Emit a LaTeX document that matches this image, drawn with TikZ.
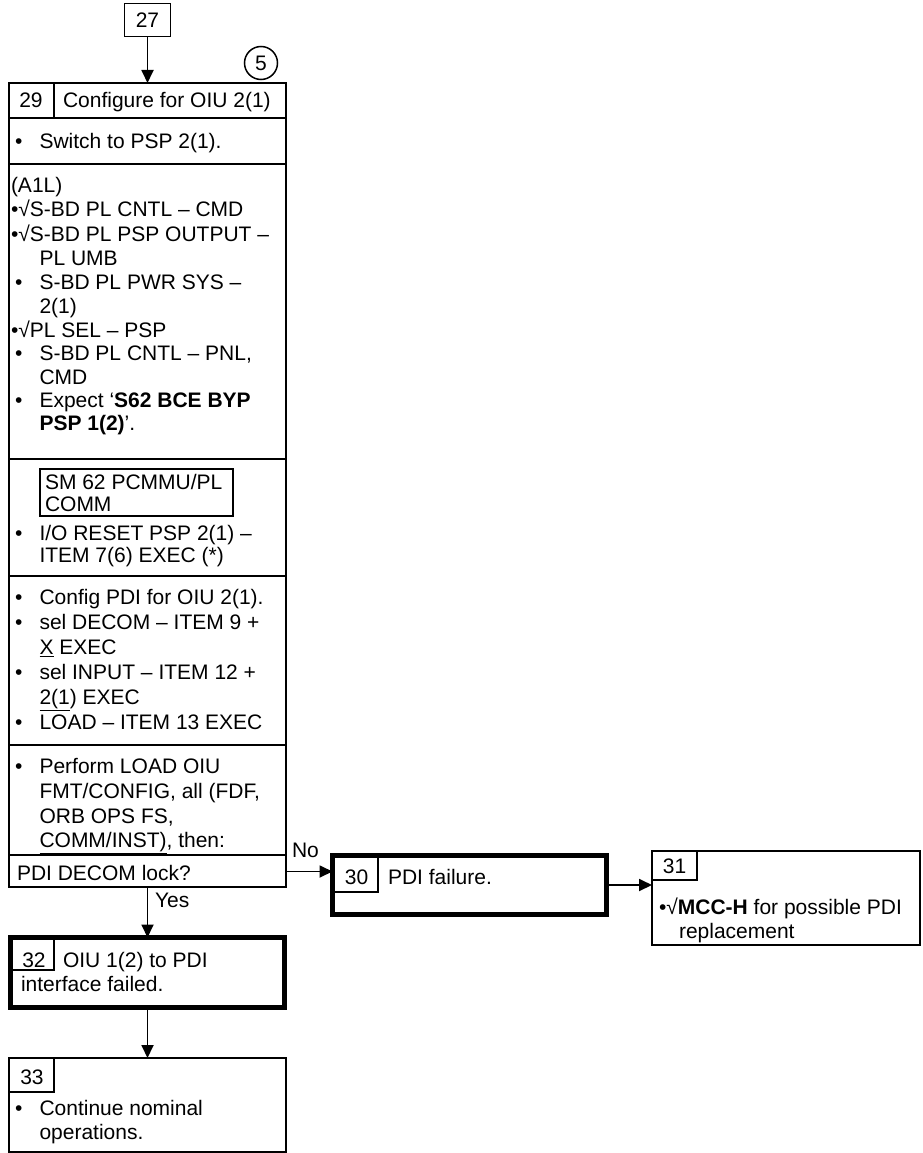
\documentclass[tikz,border=0pt]{standalone}
\usepackage{fontspec}
\setmainfont{Liberation Sans}
\usetikzlibrary{arrows.meta}
\begin{document}
\begin{tikzpicture}[x=1pt,y=-1pt,
  every node/.style={inner sep=0pt,outer sep=0pt,font=\fontsize{21}{23.5}\selectfont},
  tx/.style={anchor=base west},
  frm/.style={draw,line width=1.8pt},
  tfrm/.style={draw,line width=5pt},
  sepl/.style={line width=1.8pt},
  celll/.style={line width=1.4pt},
  arr/.style={line width=1.8pt,-{Triangle[length=13pt,width=12pt]}}]
\useasboundingbox (0,0) rectangle (922,1153);
% boxes
\node[frm,minimum width=46pt,minimum height=33pt] (b27) at (147.5,20) {27};
\node[draw,circle,line width=1.5pt,minimum size=33pt] (c5) at (261,63) {5};
\node[frm,minimum width=277pt,minimum height=804pt] (b29) at (147.5,485) {};
\node[minimum width=277pt,minimum height=33pt] (q) at (147.5,871.5) {};
\node[tfrm,minimum width=274pt,minimum height=59pt] (b30) at (469.5,885) {};
\node[frm,minimum width=268pt,minimum height=94pt] (b31) at (786,898) {};
\node[tfrm,minimum width=274pt,minimum height=70pt] (b32) at (147.5,972.5) {};
\node[frm,minimum width=277pt,minimum height=94pt] (b33) at (147.5,1105) {};
% box 29 rows
\draw[sepl] (9,118) -- (286,118);
\draw[sepl] (9,164) -- (286,164);
\draw[sepl] (9,459) -- (286,459);
\draw[sepl] (9,576) -- (286,576);
\draw[sepl] (9,745) -- (286,745);
\draw[sepl] (9,855) -- (286,855);
\draw[celll] (54,83) -- (54,118);
\node (n29) at (31,100) {29};
\node[tx] (t1) at (63,107.5) {Configure for OIU 2(1)};
\node[tx] (bl1) at (15,148.5) {•};
\node[tx] (t2) at (39.5,148.5) {Switch to PSP 2(1).};
\node[tx] (t3) at (11,192.5) {(A1L)};
\node[tx] (t4) at (11,216.5) {•√S-BD PL CNTL – CMD};
\node[tx] (t5) at (11,241.5) {•√S-BD PL PSP OUTPUT –};
\node[tx] (t6) at (39.5,265.5) {PL UMB};
\node[tx] (bl2) at (15,289.5) {•};
\node[tx] (t7) at (39.5,289.5) {S-BD PL PWR SYS –};
\node[tx] (t8) at (39.5,313.5) {2(1)};
\node[tx] (t9) at (11,337.5) {•√PL SEL – PSP};
\node[tx] (bl3) at (15,360.5) {•};
\node[tx] (t10) at (39.5,360.5) {S-BD PL CNTL – PNL,};
\node[tx] (t11) at (39.5,384.5) {CMD};
\node[tx] (bl4) at (15,407.5) {•};
\node[tx] (t12) at (39.5,407.5) {Expect ‘\textbf{S62 BCE BYP}};
\node[tx] (t13) at (39.5,430.5) {\textbf{PSP 1(2)}’.};
% SM 62 box
\node[frm,minimum width=193pt,minimum height=47pt] (sm) at (136.5,492.5) {};
\node[tx] (t14) at (45,489.5) {SM 62 PCMMU/PL};
\node[tx] (t15) at (45,511.5) {COMM};
\node[tx] (bl5) at (15,540.5) {•};
\node[tx] (t16) at (39.5,540.5) {I/O RESET PSP 2(1) –};
\node[tx] (t17) at (39.5,562.5) {ITEM 7(6) EXEC (*)};
% config block
\node[tx] (bl6) at (15,604.5) {•};
\node[tx] (t18) at (39.5,604.5) {Config PDI for OIU 2(1).};
\node[tx] (bl7) at (15,629.5) {•};
\node[tx] (t19) at (39.5,629.5) {sel DECOM – ITEM 9 +};
\node[tx] (t20) at (39.5,654.5) {\underline{X} EXEC};
\node[tx] (bl8) at (15,679.5) {•};
\node[tx] (t21) at (39.5,679.5) {sel INPUT – ITEM 12 +};
\node[tx] (t22) at (39.5,704.5) {\underline{2(1}) EXEC};
\node[tx] (bl9) at (15,729.5) {•};
\node[tx] (t23) at (39.5,729.5) {LOAD – ITEM 13 EXEC};
% perform block
\node[tx] (bl10) at (15,773) {•};
\node[tx] (t24) at (39.5,773) {Perform LOAD OIU};
\node[tx] (t25) at (39.5,798) {FMT/CONFIG, all (FDF,};
\node[tx] (t26) at (39.5,823) {ORB OPS FS,};
\node[tx] (t27) at (39.5,847.5) {\underline{COMM/INST)}, then:};
\node[tx] (t28) at (17,880.5) {PDI DECOM lock?};
% labels
\node[tx] (yes) at (155,907.5) {Yes};
\node[tx] (no) at (292,857.5) {No};
% box 30
\draw[celll] (378,858) -- (378,892) -- (335,892);
\node (n30) at (356.5,877) {30};
\node[tx] (t29) at (388,884.5) {PDI failure.};
% box 31
\draw[celll] (697,851) -- (697,880) -- (652,880);
\node (n31) at (674.5,866) {31};
\node[tx] (t30) at (659,914.5) {•√\textbf{MCC-H} for possible PDI};
\node[tx] (t31) at (679,938.5) {replacement};
% box 32
\draw[celll] (54,940) -- (54,970) -- (13,970);
\node (n32) at (34,960) {32};
\node[tx] (t32) at (63,967.5) {OIU 1(2) to PDI};
\node[tx] (t33) at (21,991) {interface failed.};
% box 33
\draw[celll] (54,1058) -- (54,1092) -- (9,1092);
\node (n33) at (32,1077) {33};
\node[tx] (bl11) at (15,1115.5) {•};
\node[tx] (t34) at (39.5,1115.5) {Continue nominal};
\node[tx] (t35) at (39.5,1139.5) {operations.};
% connectors
\draw[arr] (b27.south) -- (b29.north);
\draw[arr] (b29.south) -- (b32.north);
\draw[arr] (b32.south) -- (b33.north);
\draw[arr] (q.east) -- (q.east -| b30.west);
\draw[arr] (b30.east) -- (b30.east -| b31.west);
\end{tikzpicture}
\end{document}
